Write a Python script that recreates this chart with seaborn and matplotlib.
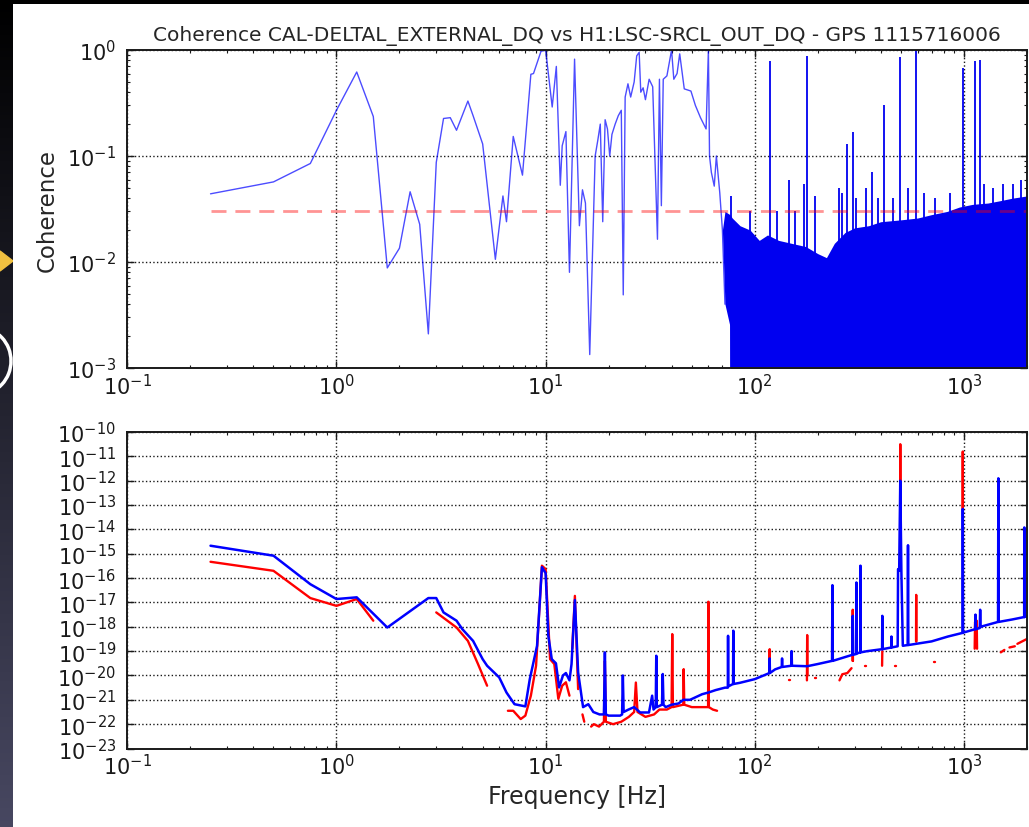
import numpy as np
import pandas as pd
import seaborn as sns
import matplotlib.pyplot as plt
from matplotlib.patches import Polygon, Arc
from matplotlib.ticker import LogLocator, NullLocator

# ---- top panel: coherence, sparse part (< ~72 Hz)
coh_freq = [0.25, 0.5, 0.75, 1.0, 1.25, 1.5, 1.75, 2.0, 2.25, 2.5, 2.75, 3.0, 3.25, 3.5,
            3.75, 4.25, 4.5, 5.0, 5.75, 6.25, 6.5, 7.0, 7.75, 8.5, 8.75, 9.5, 10.0, 10.75,
            11.25, 11.75, 12.0, 12.5, 13.0, 13.75, 14.5, 15.0, 15.5, 16.25, 17.25, 17.75,
            18.25, 18.75, 19.25, 19.75, 20.25, 20.75, 21.5, 22.25, 23.0, 23.5, 24.0, 24.75,
            25.5, 26.5, 27.25, 28.0, 28.5, 29.25, 30.0, 31.25, 32.5, 34.25, 35.0, 35.75,
            36.5, 38.0, 40.0, 41.0, 42.5, 43.75, 46.0, 49.5, 52.0, 55.0, 58.5, 60.0, 60.75,
            62.0, 64.0, 65.5, 68.0, 70.0, 72.0]
coh_vals = [0.044, 0.057, 0.085, 0.27, 0.62, 0.236, 0.0088, 0.0135, 0.046, 0.0227, 0.0021,
            0.087, 0.226, 0.23, 0.175, 0.33, 0.24, 0.13, 0.0106, 0.042, 0.024, 0.153, 0.066,
            0.59, 0.6, 0.97, 1.0, 0.29, 0.70, 0.053, 0.125, 0.17, 0.008, 0.82, 0.022, 0.048,
            0.036, 0.00134, 0.10, 0.14, 0.2, 0.024, 0.22, 0.18, 0.10, 0.16, 0.2, 0.24, 0.27,
            0.0049, 0.36, 0.48, 0.36, 0.5, 0.88, 0.95, 0.4, 0.44, 0.34, 0.53, 0.45, 0.0164,
            0.53, 0.034, 0.53, 0.57, 1.0, 0.53, 0.6, 0.92, 0.43, 0.41, 0.30, 0.23, 0.18, 1.0,
            0.10, 0.07, 0.052, 0.10, 0.045, 0.02, 0.004]

# dense part above ~72 Hz: upper / lower edge of the solid band
noise_freq = [70, 72, 76, 78, 85, 95, 105, 115, 130, 150, 175, 200, 220, 240, 270, 300,
              350, 400, 500, 600, 700, 830, 950, 1100, 1300, 1500, 1700, 2000]
noise_top = [0.02, 0.03, 0.028, 0.026, 0.022, 0.02, 0.016, 0.018, 0.016, 0.015, 0.014,
             0.012, 0.011, 0.015, 0.019, 0.021, 0.022, 0.024, 0.025, 0.026, 0.028, 0.03,
             0.033, 0.035, 0.036, 0.038, 0.04, 0.042]
noise_low = [0.02, 0.004, 0.0025, 1e-4, 1e-4, 1e-4, 1e-4, 1e-4, 1e-4, 1e-4, 1e-4, 1e-4,
             1e-4, 1e-4, 1e-4, 1e-4, 1e-4, 1e-4, 1e-4, 1e-4, 1e-4, 1e-4, 1e-4, 1e-4, 1e-4,
             1e-4, 1e-4, 1e-4]

# narrow lines sticking out of the band
line_freq = [77.3, 94.5, 117.8, 127, 145.6, 155, 171.8, 178.2, 195, 254, 262, 277, 294,
             305, 339, 364, 387, 414, 457, 496, 539, 591, 647, 723, 853, 987, 1135, 1194,
             1253, 1374, 1532, 1710, 1875]
line_coh = [0.042, 0.03, 0.79, 0.03, 0.06, 0.03, 0.055, 0.88, 0.042, 0.05, 0.045, 0.13,
            0.17, 0.04, 0.05, 0.07, 0.04, 0.30, 0.04, 0.85, 0.05, 0.98, 0.045, 0.04, 0.045,
            0.67, 0.78, 0.8, 0.055, 0.05, 0.055, 0.055, 0.06]

thresh_freq = [0.25, 2000]
thresh_coh = 0.03

# ---- bottom panel: spectra, log10 values
blue_freq = [0.25, 0.5, 0.75, 1.0, 1.25, 1.75, 2.75, 3.0, 3.25, 3.75, 4.0, 4.5, 5.0, 5.25,
             6.0, 6.5, 7.1, 8.0, 8.4, 9.1, 9.6, 10.0, 10.3, 10.7, 11.2, 11.6, 12.1, 12.5,
             13.0, 13.3, 13.8, 14.3, 15.1, 16.0, 16.9, 18.1, 19.0, 19.2, 19.4, 20.0, 22.7,
             23.2, 23.4, 23.6, 24.9, 26.5, 28.3, 31.2, 32.3, 32.8, 33.6, 33.8, 34.0, 36.0,
             36.3, 36.6, 37.5, 40.0, 43.2, 45.5, 49.0, 56.0, 60.0, 65.0, 72.0, 74.3, 74.5,
             74.7, 78.7, 78.9, 79.2, 85.0, 100, 117.5, 117.8, 118.1, 125, 134.5, 135, 135.5,
             149.5, 150, 150.5, 178, 200, 234, 235, 236, 280, 293, 294, 295, 305, 306, 307,
             319, 320, 321, 345, 406, 407, 408, 449, 450, 451, 482, 484, 490, 496, 502, 510,
             538, 540, 542, 591, 700, 838, 985, 987, 990, 1000, 1130, 1135, 1140, 1190, 1195,
             1200, 1455, 1460, 1465, 1700, 1940, 1943, 1946, 2000]
blue_log = [-14.67, -15.08, -16.25, -16.86, -16.79, -18.03, -16.82, -16.82, -17.41, -17.75,
            -18.1, -18.58, -19.33, -19.6, -20.08, -20.7, -21.18, -21.27, -20.15, -18.78,
            -15.55, -15.8, -18.37, -19.33, -19.5, -20.49, -20.0, -19.9, -20.2, -19.53, -16.9,
            -19.87, -21.3, -21.18, -21.5, -21.6, -21.6, -19.05, -21.6, -21.65, -21.65, -21.6,
            -20.0, -21.5, -21.4, -21.3, -21.52, -21.52, -20.83, -21.4, -21.3, -19.19, -21.3,
            -21.2, -19.94, -21.2, -21.3, -21.2, -21.15, -21.0, -21.0, -20.77, -20.7, -20.6,
            -20.5, -20.5, -18.37, -20.45, -20.35, -18.16, -20.35, -20.3, -20.15, -19.9,
            -19.3, -19.9, -19.75, -19.65, -19.3, -19.65, -19.6, -19.0, -19.6, -19.62, -19.53,
            -19.4, -16.29, -19.4, -19.2, -19.15, -17.55, -19.15, -19.12, -16.18, -19.1,
            -19.05, -15.49, -19.05, -19.0, -18.92, -17.55, -18.92, -18.85, -18.4, -18.85,
            -18.8, -15.63, -15.7, -12.0, -15.7, -18.78, -18.75, -14.65, -18.75, -18.7, -18.6,
            -18.4, -18.25, -13.16, -18.25, -18.23, -18.1, -17.5, -18.1, -18.05, -17.3, -18.0,
            -17.8, -11.9, -17.8, -17.7, -17.6, -13.92, -17.6, -17.55]

# red trace has gaps (None)
red_freq = [0.25, 0.5, 0.75, 1.0, 1.25, 1.5, None,
            3.0, 3.75, 4.25, 4.75, 5.25, None,
            6.6, 7.0, 7.6, 8.0, 8.5, 9.0, 9.6, 10.0, 10.5, 11.0, 11.5, 12.0, 12.5, 13.0, None,
            13.4, 13.8, 14.3, None,
            15.0, 15.3, None,
            16.5, 17.0, 18.0, 19.0, 19.2, 19.4, 21.0, 23.0, 25.0, 26.5, 27.0, 27.5, 30.0,
            33.0, 35.0, 38.0, 40.0, 40.3, 40.6, 45.5, 45.7, 46.0, 50.0, 55.0, 59.8, 60.0,
            60.3, 63.0, 66.0, None,
            117.6, 117.8, 118.0, None, 145, 147, None,
            177.5, 178, 178.5, None, 194, 196, None,
            254, 262, 277, 290, None, 293.5, 294, 294.5, None, 338, 341, None,
            406, 407, None, 469, 472, None, 495, 496, 497, None,
            590, 591, 592, None, 721, 725, None, 986, 987, 988, None,
            1125, 1130, 1140, 1150, 1155, None, 1500, 1560, None, 1650, 1750, None, 1800, 2000]
red_log = [-15.33, -15.7, -16.82, -17.14, -16.86, -17.75, None,
           -17.41, -18.03, -18.58, -19.53, -20.42, None,
           -21.45, -21.45, -21.79, -21.65, -20.83, -19.6, -15.49, -15.63, -19.33, -19.53,
           -20.96, -20.42, -20.28, -20.83, None,
           -18.9, -16.73, -20.56, None,
           -21.6, -21.9, None,
           -22.1, -22.0, -22.1, -21.9, -19.4, -21.9, -22.0, -21.9, -21.7, -21.5, -20.29,
           -21.5, -21.7, -21.6, -21.4, -21.4, -21.3, -18.3, -21.3, -21.2, -19.74, -21.2,
           -21.3, -21.3, -21.3, -16.97, -21.3, -21.4, -21.45, None,
           -19.9, -18.92, -19.7, None, -20.2, -20.2, None,
           -20.2, -18.34, -20.0, None, -20.1, -20.1, None,
           -20.2, -19.95, -19.9, -19.7, None, -19.4, -17.3, -19.4, None, -19.6, -19.6, None,
           -19.6, -19.0, None, -19.6, -19.6, None, -15.6, -10.5, -15.6, None,
           -18.6, -16.69, -18.6, None, -19.45, -19.45, None, -13.16, -10.8, -13.16, None,
           -18.9, -17.8, -18.0, -17.75, -18.9, None, -19.05, -18.95, None, -18.85, -18.8, None,
           -18.7, -18.5]

title = "Coherence CAL-DELTAL_EXTERNAL_DQ vs H1:LSC-SRCL_OUT_DQ - GPS 1115716006"

sns.set_theme(style="ticks")
plt.rcParams["font.family"] = ["DejaVu Sans"]
plt.rcParams["axes.unicode_minus"] = False
plt.rcParams["mathtext.default"] = "regular"

fig = plt.figure(figsize=(10.29, 8.28), dpi=100)
ax1 = fig.add_axes([0.1237, 0.5543, 0.8743, 0.3841])
ax2 = fig.add_axes([0.1237, 0.0948, 0.8743, 0.3822])

for ax in (ax1, ax2):
    ax.set_xscale("log")
    ax.set_yscale("log")

# top
coh = pd.DataFrame({"freq": coh_freq, "coh": coh_vals})
sns.lineplot(data=coh, x="freq", y="coh", ax=ax1, color="#0000ff", alpha=0.7, lw=1,
             estimator=None, sort=False, legend=False)
ax1.fill_between(noise_freq, noise_low, noise_top, color="#0000f0", lw=0)
ax1.vlines(line_freq, 1e-4, line_coh, color="#0000f0", lw=1.3)
ax1.plot(thresh_freq, [thresh_coh, thresh_coh], color="red", alpha=0.42, lw=2,
         ls=(0, (5.4, 3.2)))
ax1.set_xlim(0.1, 2000)
ax1.set_ylim(1e-3, 1)
ax1.set_xlabel("")
ax1.set_ylabel("Coherence", fontsize=16.5, labelpad=6)
ax1.set_title(title, fontsize=14.5, pad=7)

# bottom
red = pd.DataFrame({"freq": red_freq, "val": red_log}).astype(float)
red["seg"] = red["freq"].isna().cumsum()
red = red.dropna()
red["psd"] = 10.0 ** red["val"]
blue = pd.DataFrame({"freq": blue_freq, "psd": 10.0 ** np.array(blue_log)})
sns.lineplot(data=red, x="freq", y="psd", units="seg", ax=ax2, color="#ff0000", lw=1.7,
             estimator=None, sort=False, legend=False)
sns.lineplot(data=blue, x="freq", y="psd", ax=ax2, color="#0000ff", lw=1.8,
             estimator=None, sort=False, legend=False)
ax2.set_xlim(0.1, 2000)
ax2.set_ylim(1e-23, 1e-10)
ax2.yaxis.set_major_locator(LogLocator(base=10, numticks=30))
ax2.yaxis.set_minor_locator(NullLocator())
ax2.set_ylabel("")
ax2.set_xlabel("Frequency [Hz]", fontsize=17, labelpad=4)

for ax in (ax1, ax2):
    ax.grid(True, which="major", color="k", ls=":", lw=1)
    ax.tick_params(which="both", direction="in", top=True, right=True, colors="k",
                   labelsize=15)
    ax.tick_params(which="major", length=5, width=1)
    ax.tick_params(which="minor", length=2.5, width=0.8)
    ax.tick_params(axis="y", which="major", pad=8)
    for s in ax.spines.values():
        s.set_color("k")
        s.set_linewidth(1.4)

# slide background strip on the left / top of the screenshot
bg = fig.add_axes([0, 0, 13 / 1029, 1])
grad = np.linspace(0, 1, 256)[:, None, None] * np.array([0.28, 0.28, 0.38])[None, None, :]
bg.imshow(grad, aspect="auto", extent=(0, 13, 828, 0))
bg.add_patch(Polygon([[0, 252], [13, 262], [0, 272]], color="#f0c040"))
bg.add_patch(Arc((-20, 362), 62, 66, color="white", lw=2.5))
bg.set_xlim(0, 13)
bg.set_ylim(828, 0)
bg.axis("off")
top = fig.add_axes([0, 1 - 5 / 828, 1, 5 / 828])
top.set_facecolor("black")
top.set_xticks([])
top.set_yticks([])
for s in top.spines.values():
    s.set_visible(False)

fig.savefig("out.png", dpi=100)
